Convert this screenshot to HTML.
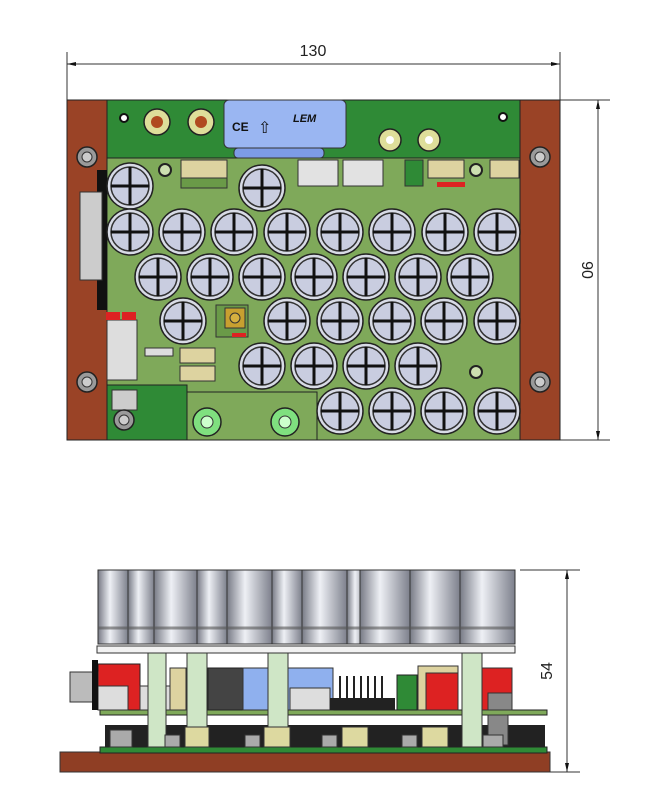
<!DOCTYPE html>
<html><head><meta charset="utf-8"><style>html,body{margin:0;padding:0;background:#fff}svg{display:block}</style></head><body>
<svg width="655" height="796" viewBox="0 0 655 796" xmlns="http://www.w3.org/2000/svg" font-family="Liberation Sans, sans-serif">
<defs>
<g id="cap"><circle r="23" fill="#d8dbe6" stroke="#222" stroke-width="1.5"/><circle r="19" fill="#c9cde0" stroke="#333" stroke-width="1.5"/><path d="M-19 0H19M0 -19V19" stroke="#111" stroke-width="3"/></g>
<linearGradient id="cyl" x1="0" x2="1"><stop offset="0" stop-color="#777a85"/><stop offset=".4" stop-color="#eef0f5"/><stop offset="1" stop-color="#7d808c"/></linearGradient>
<g id="screw"><circle r="10" fill="#9a9a9a" stroke="#222" stroke-width="1.5"/><circle r="5" fill="#ccc" stroke="#333"/></g>
</defs>
<!-- dimension 130 -->
<line x1="67" y1="52" x2="67" y2="100" stroke="#333"/>
<line x1="560" y1="52" x2="560" y2="100" stroke="#333"/>
<line x1="67" y1="64" x2="560" y2="64" stroke="#333"/>
<path d="M67 64l9-2v4zM560 64l-9-2v4z" fill="#111"/>
<text x="313" y="56" font-size="16" text-anchor="middle" fill="#222">130</text>
<!-- dimension 90 -->
<line x1="560" y1="100" x2="610" y2="100" stroke="#333"/>
<line x1="560" y1="440" x2="610" y2="440" stroke="#333"/>
<line x1="598" y1="100" x2="598" y2="440" stroke="#333"/>
<path d="M598 100l-2 9h4zM598 440l-2-9h4z" fill="#111"/>
<text x="0" y="0" font-size="16" fill="#222" text-anchor="middle" transform="translate(582 270) rotate(90)">90</text>
<!-- top view -->
<rect x="67" y="100" width="40" height="340" fill="#9a4326" stroke="#222"/>
<rect x="520" y="100" width="40" height="340" fill="#9a4326" stroke="#222"/>
<rect x="107" y="100" width="413" height="340" fill="#2f8a36" stroke="#222"/>
<rect x="107" y="158" width="413" height="282" fill="#7fa95a" stroke="#222"/>
<rect x="107" y="385" width="80" height="55" fill="#2f8a36" stroke="#222"/>
<rect x="187" y="392" width="130" height="48" fill="#7fa95a" stroke="#222"/>
<rect x="97" y="170" width="10" height="140" fill="#111"/>
<rect x="80" y="192" width="22" height="88" fill="#ccc" stroke="#333"/>
<rect x="107" y="320" width="30" height="60" fill="#ddd" stroke="#333"/>
<rect x="106" y="312" width="14" height="8" fill="#d22"/><rect x="122" y="312" width="14" height="8" fill="#d22"/>
<rect x="145" y="348" width="28" height="8" fill="#ddd" stroke="#333"/>
<rect x="180" y="348" width="35" height="15" fill="#ddd3a0" stroke="#333"/>
<rect x="180" y="366" width="35" height="15" fill="#ddd3a0" stroke="#333"/>
<rect x="112" y="390" width="25" height="20" fill="#ccc" stroke="#333"/>
<use href="#screw" x="124" y="420" transform="translate(0 0)"/>
<rect x="216" y="305" width="32" height="32" fill="#6a9a48" stroke="#333"/>
<rect x="225" y="308" width="20" height="20" fill="#c8a030" stroke="#333"/><circle cx="235" cy="318" r="5" fill="#d6b040" stroke="#333"/>
<rect x="232" y="333" width="14" height="4" fill="#d22"/>
<use href="#screw" x="87" y="157"/><use href="#screw" x="87" y="382"/>
<use href="#screw" x="540" y="157"/><use href="#screw" x="540" y="382"/>
<circle cx="124" cy="118" r="4" fill="#fff" stroke="#111" stroke-width="2"/>
<circle cx="157" cy="122" r="13" fill="#dede9a" stroke="#222" stroke-width="1.5"/><circle cx="157" cy="122" r="6" fill="#b04a20"/>
<circle cx="201" cy="122" r="13" fill="#dede9a" stroke="#222" stroke-width="1.5"/><circle cx="201" cy="122" r="6" fill="#b04a20"/>
<circle cx="390" cy="140" r="11" fill="#dede9a" stroke="#222" stroke-width="1.5"/><circle cx="390" cy="140" r="4" fill="#fff"/>
<circle cx="429" cy="140" r="11" fill="#dede9a" stroke="#222" stroke-width="1.5"/><circle cx="429" cy="140" r="4" fill="#fff"/>
<circle cx="503" cy="117" r="4" fill="#fff" stroke="#111" stroke-width="2"/>
<rect x="234" y="148" width="90" height="10" rx="4" fill="#7d9ce6" stroke="#333"/>
<rect x="224" y="100" width="122" height="48" rx="5" fill="#9ab6f2" stroke="#333"/>
<text x="232" y="131" font-size="12" font-weight="bold" fill="#111">CE</text>
<text x="258" y="133" font-size="16" fill="#111">⇧</text>
<text x="293" y="122" font-size="11" font-weight="bold" font-style="italic" fill="#111">LEM</text>
<rect x="181" y="160" width="46" height="18" fill="#ddd3a0" stroke="#333"/><rect x="181" y="178" width="46" height="10" fill="#6a9a48" stroke="#333"/>
<circle cx="165" cy="170" r="6" fill="#cde0b0" stroke="#222" stroke-width="2"/>
<rect x="298" y="160" width="40" height="26" fill="#e2e2e2" stroke="#333"/>
<rect x="343" y="160" width="40" height="26" fill="#e2e2e2" stroke="#333"/>
<rect x="405" y="160" width="18" height="26" fill="#2f8a36" stroke="#333"/>
<rect x="428" y="160" width="36" height="18" fill="#ddd3a0" stroke="#333"/>
<rect x="437" y="182" width="28" height="5" fill="#d22"/>
<circle cx="476" cy="170" r="6" fill="#cde0b0" stroke="#222" stroke-width="2"/>
<rect x="490" y="160" width="29" height="18" fill="#ddd3a0" stroke="#333"/>
<circle cx="476" cy="372" r="6" fill="#cde0b0" stroke="#222" stroke-width="2"/>
<circle cx="207" cy="422" r="14" fill="#7fe07f" stroke="#222" stroke-width="1.5"/><circle cx="207" cy="422" r="6" fill="#cfc" stroke="#333"/>
<circle cx="285" cy="422" r="14" fill="#7fe07f" stroke="#222" stroke-width="1.5"/><circle cx="285" cy="422" r="6" fill="#cfc" stroke="#333"/>
<use href="#cap" x="130" y="186"/><use href="#cap" x="262" y="188"/>
<use href="#cap" x="130" y="232"/><use href="#cap" x="182" y="232"/><use href="#cap" x="234" y="232"/><use href="#cap" x="287" y="232"/><use href="#cap" x="340" y="232"/><use href="#cap" x="392" y="232"/><use href="#cap" x="445" y="232"/><use href="#cap" x="497" y="232"/>
<use href="#cap" x="158" y="277"/><use href="#cap" x="210" y="277"/><use href="#cap" x="262" y="277"/><use href="#cap" x="314" y="277"/><use href="#cap" x="366" y="277"/><use href="#cap" x="418" y="277"/><use href="#cap" x="470" y="277"/>
<use href="#cap" x="183" y="321"/><use href="#cap" x="287" y="321"/><use href="#cap" x="340" y="321"/><use href="#cap" x="392" y="321"/><use href="#cap" x="444" y="321"/><use href="#cap" x="497" y="321"/>
<use href="#cap" x="262" y="366"/><use href="#cap" x="314" y="366"/><use href="#cap" x="366" y="366"/><use href="#cap" x="418" y="366"/>
<use href="#cap" x="340" y="411"/><use href="#cap" x="392" y="411"/><use href="#cap" x="444" y="411"/><use href="#cap" x="497" y="411"/>
<!-- side view -->
<line x1="520" y1="570" x2="580" y2="570" stroke="#333"/>
<line x1="550" y1="772" x2="580" y2="772" stroke="#333"/>
<line x1="567" y1="570" x2="567" y2="772" stroke="#333"/>
<path d="M567 570l-2 9h4zM567 772l-2-9h4z" fill="#111"/>
<text x="0" y="0" font-size="16" fill="#222" text-anchor="middle" transform="translate(552 671) rotate(-90)">54</text>
<rect x="60" y="768" width="0" height="0"/>
<rect x="60" y="752" width="490" height="20" fill="#8f3e24" stroke="#333"/>
<rect x="100" y="747" width="447" height="6" fill="#2f8a36" stroke="#222"/>
<rect x="105" y="725" width="440" height="22" fill="#222"/>
<rect x="100" y="710" width="447" height="5" fill="#7fa95a" stroke="#222"/>
<rect x="98" y="664" width="42" height="46" fill="#d22" stroke="#222"/>
<rect x="98" y="686" width="30" height="24" fill="#ddd" stroke="#333"/>
<rect x="70" y="672" width="28" height="30" fill="#bbb" stroke="#333"/>
<rect x="92" y="660" width="6" height="50" fill="#111"/>
<rect x="140" y="686" width="30" height="24" fill="#ddd" stroke="#333"/>
<rect x="170" y="668" width="16" height="42" fill="#ddd3a0" stroke="#333"/>
<rect x="208" y="668" width="35" height="42" fill="#444" stroke="#222"/>
<rect x="243" y="668" width="90" height="42" fill="#8fb0ee" stroke="#333"/>
<rect x="290" y="688" width="40" height="22" fill="#ddd" stroke="#333"/>
<rect x="330" y="698" width="65" height="12" fill="#222"/>
<path d="M340 676v22M347 676v22M354 676v22M361 676v22M368 676v22M375 676v22M382 676v22" stroke="#222" stroke-width="2"/>
<rect x="397" y="675" width="20" height="35" fill="#2f8a36" stroke="#222"/>
<rect x="418" y="666" width="40" height="44" fill="#ddd3a0" stroke="#333"/>
<rect x="426" y="673" width="32" height="37" fill="#d22" stroke="#333"/>
<rect x="480" y="668" width="32" height="42" fill="#d22" stroke="#333"/>
<rect x="488" y="693" width="24" height="17" fill="#888" stroke="#333"/>
<rect x="488" y="715" width="20" height="30" fill="#888" stroke="#333"/>
<g fill="#cfe6c6" stroke="#333">
<rect x="148" y="652" width="18" height="95"/><rect x="187" y="652" width="20" height="95"/><rect x="268" y="652" width="20" height="95"/><rect x="462" y="652" width="20" height="95"/></g>
<g fill="#ddd9a0" stroke="#333"><rect x="185" y="727" width="24" height="20"/><rect x="264" y="727" width="26" height="20"/><rect x="342" y="727" width="26" height="20"/><rect x="422" y="727" width="26" height="20"/></g>
<g fill="#aaa" stroke="#333"><rect x="110" y="730" width="22" height="17"/><rect x="165" y="735" width="15" height="12"/><rect x="245" y="735" width="15" height="12"/><rect x="322" y="735" width="15" height="12"/><rect x="402" y="735" width="15" height="12"/><rect x="483" y="735" width="20" height="12"/></g>
<rect x="97" y="646" width="418" height="7" fill="#f2f2f2" stroke="#333"/>
<g stroke="#333" fill="url(#cyl)">
<rect x="98" y="570" width="30" height="74"/><rect x="128" y="570" width="26" height="74"/><rect x="154" y="570" width="43" height="74"/><rect x="197" y="570" width="30" height="74"/><rect x="227" y="570" width="45" height="74"/><rect x="272" y="570" width="30" height="74"/><rect x="302" y="570" width="45" height="74"/><rect x="347" y="570" width="20" height="74"/><rect x="360" y="570" width="50" height="74"/><rect x="410" y="570" width="50" height="74"/><rect x="460" y="570" width="55" height="74"/>
</g>
<line x1="98" y1="628" x2="515" y2="628" stroke="#555" stroke-width="3" opacity=".6"/>
</svg>
</body></html>
